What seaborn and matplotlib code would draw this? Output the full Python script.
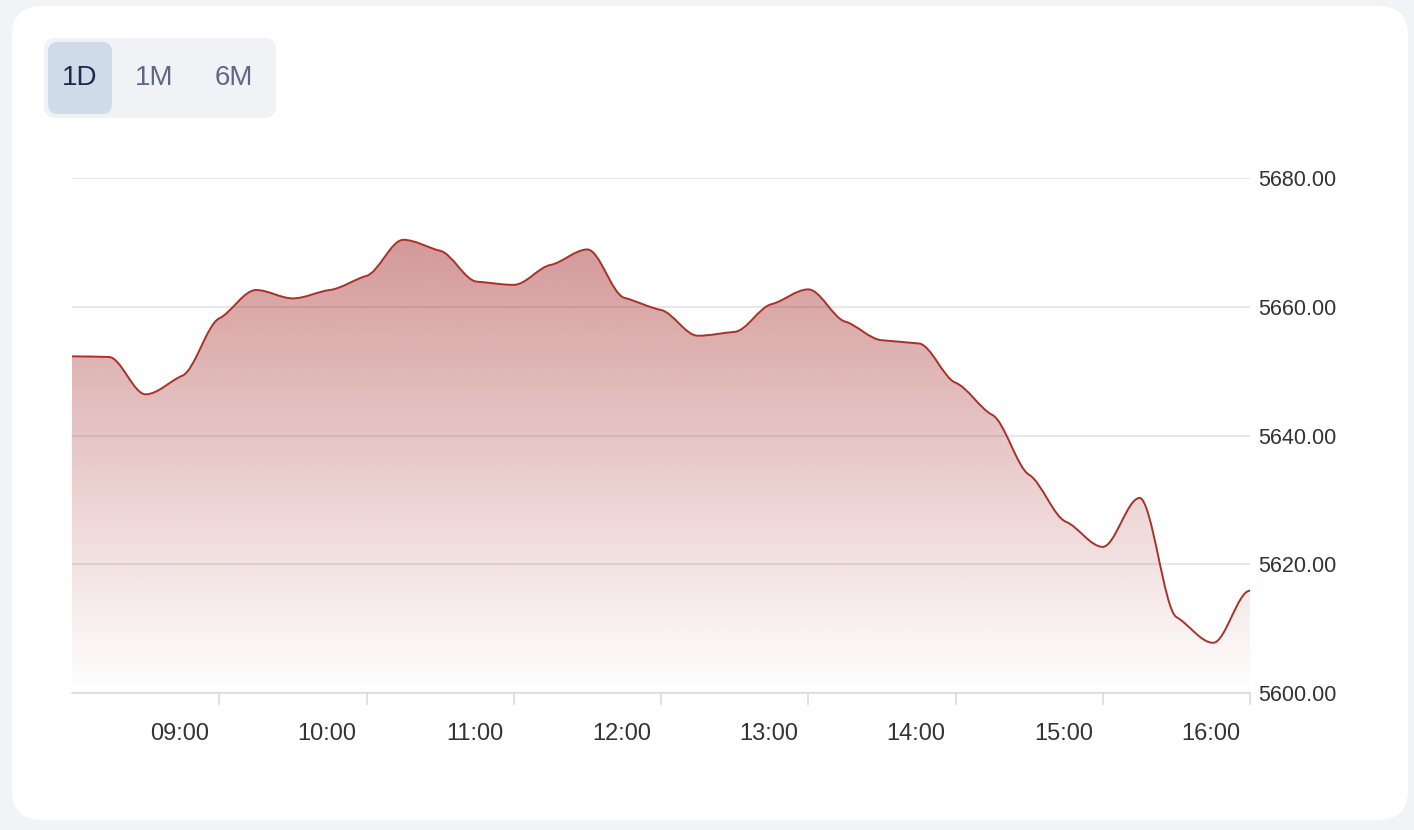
import numpy as np
import pandas as pd
import matplotlib
matplotlib.use("Agg")
import matplotlib.pyplot as plt
import seaborn as sns
from matplotlib.path import Path
from matplotlib.patches import PathPatch, FancyBboxPatch
from matplotlib.transforms import ScaledTranslation

# 15-minute closes, 08:00 to 16:00
times = pd.date_range("2024-01-02 08:00", "2024-01-02 16:00", freq="15min")
prices = [5652.3, 5652.2, 5646.4, 5649.3, 5658.2, 5662.6, 5661.3, 5662.6,
          5664.8, 5670.4, 5668.7, 5663.9, 5663.4, 5666.5, 5668.9, 5661.4,
          5659.5, 5655.5, 5656.1, 5660.4, 5662.7, 5657.7, 5654.8, 5654.3,
          5648.2, 5643.2, 5633.9, 5626.6, 5622.7, 5630.3, 5611.8, 5607.8,
          5615.9]
y_ticks = [5600, 5620, 5640, 5660, 5680]
x_ticks = ["09:00", "10:00", "11:00", "12:00", "13:00", "14:00", "15:00", "16:00"]
ranges = ["1D", "1M", "6M"]

LINE = "#a8322a"
BASE_RGB = (165 / 255, 42 / 255, 42 / 255)


def smooth_path(x, y, k=0.4):
    """Bezier path through the points; monotone tangents damped by k."""
    x = np.asarray(x, float)
    y = np.asarray(y, float)
    n = len(x)
    h = np.diff(x)
    s = np.diff(y) / h
    t = np.zeros(n)
    for i in range(1, n - 1):
        p = (s[i - 1] * h[i] + s[i] * h[i - 1]) / (h[i - 1] + h[i])
        t[i] = (np.sign(s[i - 1]) + np.sign(s[i])) * min(abs(s[i - 1]), abs(s[i]), 0.5 * abs(p))
    t *= k
    verts = [(x[0], y[0])]
    codes = [Path.MOVETO]
    for i in range(n - 1):
        dx = h[i] / 3
        verts += [(x[i] + dx, y[i] + dx * t[i]),
                  (x[i + 1] - dx, y[i + 1] - dx * t[i + 1]),
                  (x[i + 1], y[i + 1])]
        codes += [Path.CURVE4] * 3
    return verts, codes


sns.set_theme(style="white")
plt.rcParams["font.family"] = ["Liberation Sans", "DejaVu Sans"]

W, H = 1414, 830
fig = plt.figure(figsize=(W / 100, H / 100), dpi=100)
fig.patch.set_facecolor("#f2f3f7")

# card + range toggle, drawn in pixel coordinates
bg = fig.add_axes([0, 0, 1, 1], zorder=0)
bg.set_xlim(0, W)
bg.set_ylim(H, 0)
bg.axis("off")
bg.add_patch(FancyBboxPatch((12, 6), 1396, 814, boxstyle="round,pad=0,rounding_size=30",
                            facecolor="white", edgecolor="none"))
bg.add_patch(FancyBboxPatch((44, 38), 232, 80, boxstyle="round,pad=0,rounding_size=12",
                            facecolor="#f1f2f6", edgecolor="none"))
bg.add_patch(FancyBboxPatch((48, 42), 64, 72, boxstyle="round,pad=0,rounding_size=10",
                            facecolor="#cfdbe8", edgecolor="none"))
for label, cx in zip(ranges, [80, 154, 234]):
    bg.text(cx, 78, label, ha="center", va="center", fontsize=20,
            color="#1f2a4d" if label == "1D" else "#5f6784")

# chart area
ax = fig.add_axes([72 / W, 1 - 693 / H, (1250 - 72) / W, (693 - 178) / H], zorder=1)
ax.set_facecolor("none")

hours = np.asarray(times.hour + times.minute / 60.0, float)
verts, codes = smooth_path(hours, prices)
line_path = Path(verts, codes)

area_verts = verts + [(hours[-1], y_ticks[0]), (hours[0], y_ticks[0]), verts[0]]
area_codes = codes + [Path.LINETO, Path.LINETO, Path.CLOSEPOLY]
area_patch = PathPatch(Path(area_verts, area_codes), facecolor="none", edgecolor="none",
                       transform=ax.transData)
ax.add_patch(area_patch)

top = max(prices)
alpha = np.linspace(0.48, 0.0, 256)[:, None]
grad = np.zeros((256, 1, 4))
grad[..., 0], grad[..., 1], grad[..., 2] = BASE_RGB
grad[..., 3] = alpha
img = ax.imshow(grad, extent=[hours[0], hours[-1], y_ticks[0], top], origin="upper",
                aspect="auto", interpolation="bilinear", zorder=2)
img.set_clip_path(area_patch)

ax.add_patch(PathPatch(line_path, facecolor="none", edgecolor=LINE, lw=1.4, zorder=3,
                       capstyle="round", joinstyle="round"))

ax.set_xlim(hours[0], hours[-1])
ax.set_ylim(y_ticks[0], y_ticks[-1])

# grid + y labels on the right
ax.set_yticks(y_ticks)
ax.set_yticklabels([f"{v:.2f}" for v in y_ticks])
ax.yaxis.tick_right()
ax.tick_params(axis="y", length=0, pad=6, labelsize=15.5, labelcolor="#333333")
ax.grid(axis="y", color="#e1e1e4", lw=1.1, zorder=0)
ax.set_axisbelow(True)

# x axis: ticks on the hour, labels sitting left of each tick
tick_hours = [int(s[:2]) for s in x_ticks]
ax.set_xticks(tick_hours)
ax.set_xticklabels([])
ax.tick_params(axis="x", bottom=True, direction="out", length=8.5, width=1.1,
               color="#d9d9dc")
sns.despine(ax=ax, left=True, right=True, top=True)
ax.spines["bottom"].set_color("#d9d9dc")
ax.spines["bottom"].set_linewidth(1.1)

offset = ScaledTranslation(-0.10, -0.41, fig.dpi_scale_trans)
for hr, lab in zip(tick_hours, x_ticks):
    ax.text(hr, 0, lab, transform=ax.get_xaxis_transform() + offset,
            ha="right", va="center", fontsize=17, color="#333333")

fig.savefig("out.png", dpi=100, facecolor=fig.get_facecolor())
